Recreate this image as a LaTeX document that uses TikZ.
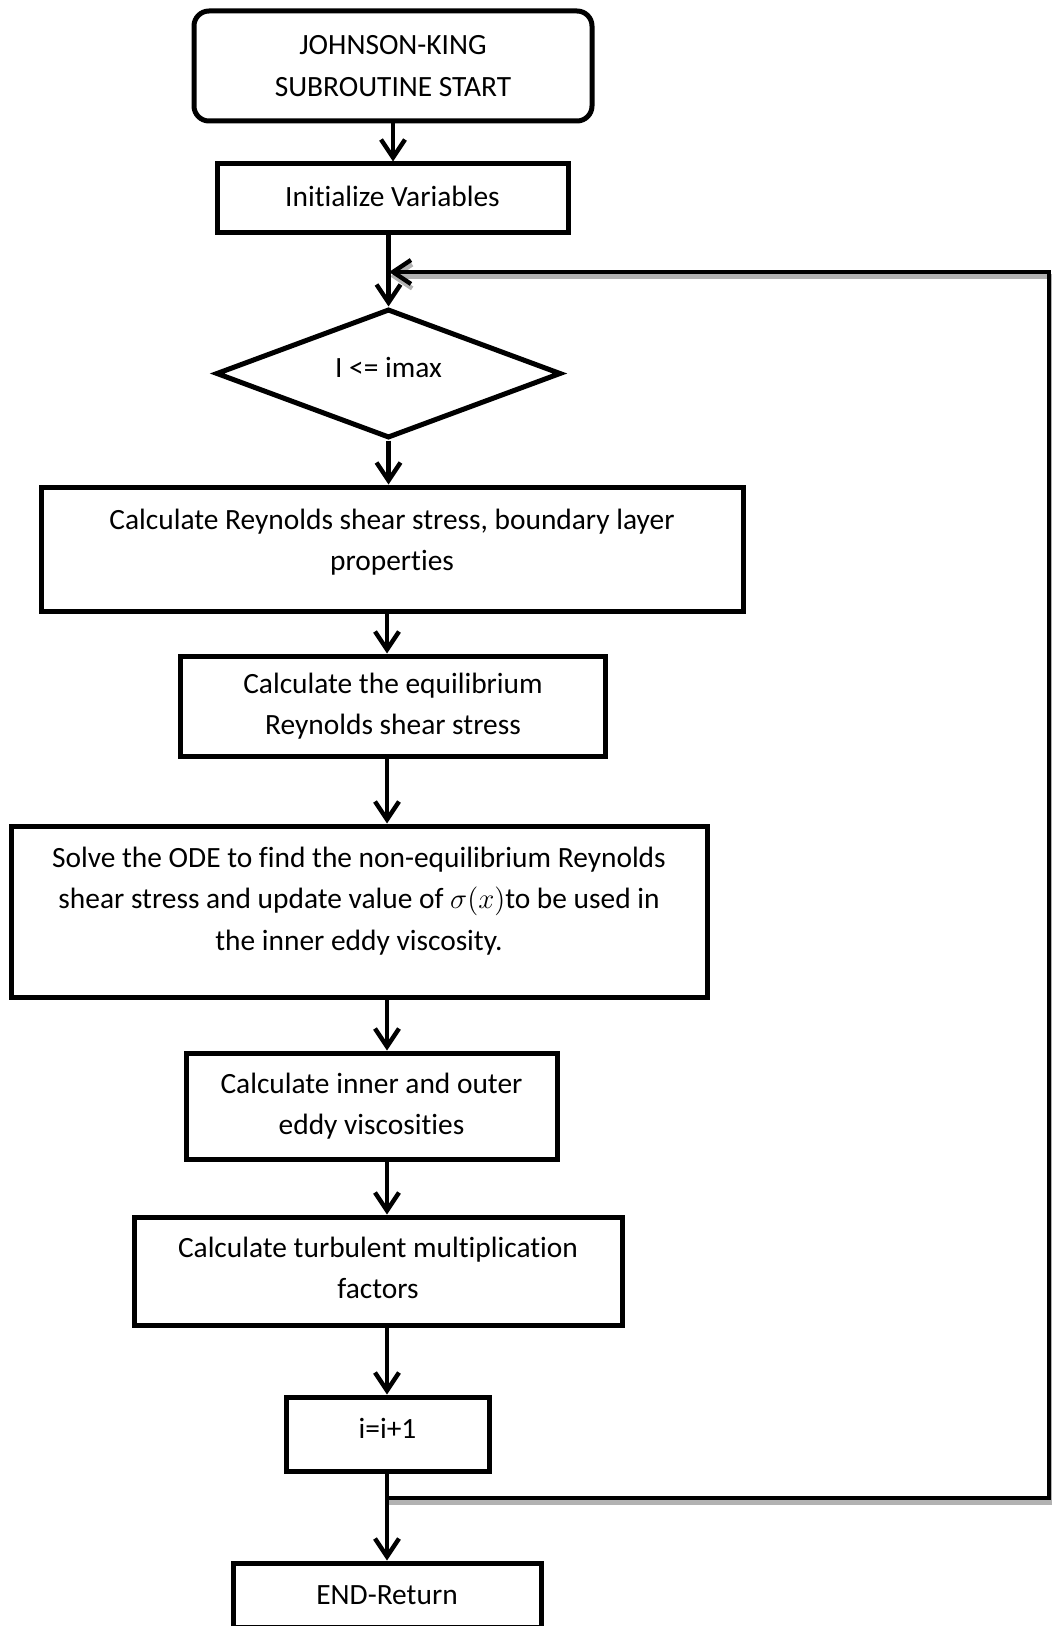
\documentclass[tikz,border=0pt]{standalone}
\usepackage{fontspec}
\setmainfont{Carlito}[Ligatures=NoCommon]
\usepackage{amsmath}
\usetikzlibrary{shapes.geometric, arrows.meta, positioning, calc}

\begin{document}
\begin{tikzpicture}[
  x=0.5pt, y=-0.5pt,
  procblock/.style={rectangle, draw, line width=2.5pt, inner sep=2pt,
                    align=center, font=\fontsize{14.7}{20.75}\selectfont},
  startblock/.style={procblock, rounded corners=7.5pt},
  decblock/.style={diamond, shape aspect=2.67, draw, line width=2.5pt, inner sep=0pt,
                   align=center, font=\fontsize{14.7}{20.75}\selectfont},
  arrow/.style={-{Straight Barb[length=9pt,width=12pt]}, line width=2.2pt},
  loopline/.style={arrow, line join=miter},
  loopshadow/.style={loopline, draw=gray!60}
]
\useasboundingbox (0,0) rectangle (1054,1626);

\node[startblock, minimum width=199pt, minimum height=55pt] (start) at (393,66)
  {JOHNSON-KING\\SUBROUTINE START};
\node[procblock, minimum width=175.5pt, minimum height=34.5pt] (init) at (392.5,198.5)
  {Initialize Variables\rule[-2pt]{0pt}{0pt}};
\node[decblock, minimum width=172.5pt, minimum height=64.5pt] (cond) at (388.5,373.5)
  {I <= imax\rule[-6pt]{0pt}{0pt}};
\node[procblock, minimum width=351pt, minimum height=62pt] (rey) at (392,549)
  {Calculate Reynolds shear stress, boundary layer\\properties\rule[-9pt]{0pt}{0pt}};
\node[procblock, minimum width=212.5pt, minimum height=50pt] (eq) at (393,706)
  {Calculate the equilibrium\\Reynolds shear stress\rule[-2pt]{0pt}{0pt}};
\node[procblock, minimum width=348pt, minimum height=85.5pt] (ode) at (359,911.5)
  {Solve the ODE to find the non-equilibrium Reynolds\\
   shear stress and update value of $\sigma(x)$to be used in\\
   the inner eddy viscosity.\rule[-13pt]{0pt}{0pt}};
\node[procblock, minimum width=185.5pt, minimum height=53pt] (inner) at (371.5,1106)
  {Calculate inner and outer\\eddy viscosities};
\node[procblock, minimum width=244pt, minimum height=54pt] (turb) at (378,1271)
  {Calculate turbulent multiplication\\factors\rule[-3pt]{0pt}{0pt}};
\node[procblock, minimum width=101.5pt, minimum height=37pt] (incr) at (387.5,1434)
  {i=i+1\rule[-6pt]{0pt}{0pt}};
\node[procblock, minimum width=154pt, minimum height=32pt] (done) at (387,1595)
  {END-Return};

% flow line and loop points
\coordinate (axis) at (387,0);
\coordinate (jtop) at (389,272);
\coordinate (jbot) at (387,1498);
\coordinate (rgt) at (1049,0);

% loop back
\draw[loopshadow, transform canvas={xshift=0.6pt, yshift=-2.2pt}]
  (jbot) -| (rgt |- jtop) -- (jtop);
\draw[loopline] (jbot) -| (rgt |- jtop) -- (jtop);

\draw[arrow] (start.south) -- (start.south |- init.north);
\draw[arrow] (init.south -| cond.north) -- (cond.north);
\draw[arrow] (cond.south) -- (cond.south |- rey.north);
\draw[arrow] (rey.south -| axis) -- (eq.north -| axis);
\draw[arrow] (eq.south -| axis) -- (ode.north -| axis);
\draw[arrow] (ode.south -| axis) -- (inner.north -| axis);
\draw[arrow] (inner.south -| axis) -- (turb.north -| axis);
\draw[arrow] (turb.south -| axis) -- (incr.north -| axis);
\draw[arrow] (incr.south -| axis) -- (done.north -| axis);
\end{tikzpicture}
\end{document}
